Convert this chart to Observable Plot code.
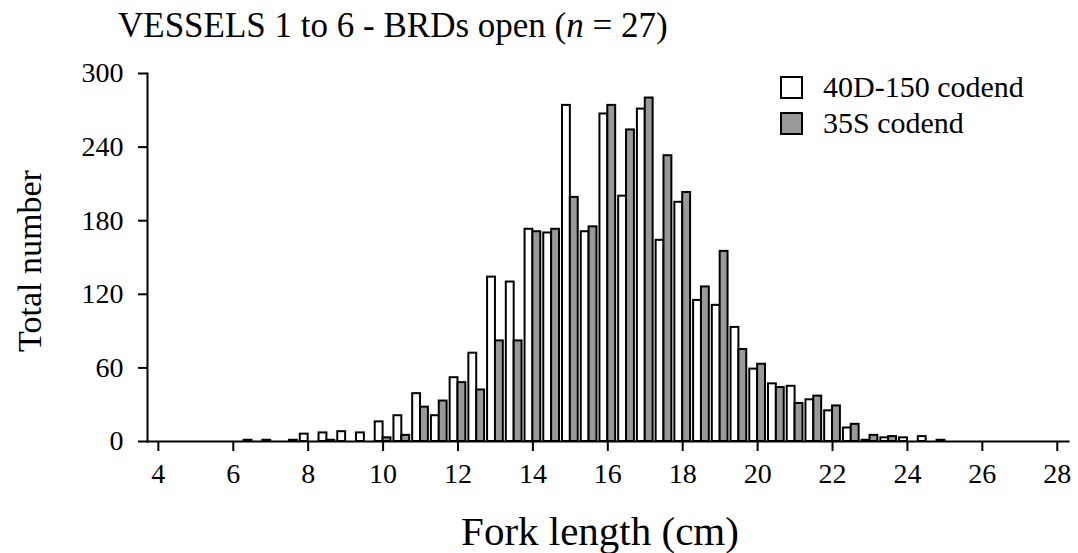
<!DOCTYPE html>
<html><head><meta charset="utf-8">
<script src="https://cdn.jsdelivr.net/npm/d3@7"></script>
<script src="https://cdn.jsdelivr.net/npm/@observablehq/plot@0.6"></script>
<style>
body{margin:0;background:#fff;}
#wrap{position:relative;width:1078px;height:553px;font-family:"Liberation Serif","Times New Roman",serif;color:#000;}
#title{position:absolute;left:118px;top:8px;font-size:35px;white-space:nowrap;line-height:1;}
#xlabel{position:absolute;left:600px;top:511px;font-size:41px;line-height:1;white-space:nowrap;transform:translateX(-50%);}
#ylabel{position:absolute;left:30px;top:261px;font-size:34px;line-height:1;white-space:nowrap;transform:translate(-50%,-50%) rotate(-90deg);}
#legend{position:absolute;left:780px;top:69px;font-size:30px;line-height:1;}
.li{display:flex;align-items:center;height:36px;}
.sw{width:19px;height:19px;border:2px solid #000;box-sizing:content-box;margin-right:20px;}
#chart{position:absolute;left:0;top:0;}
</style></head>
<body><div id="wrap"><div id="chart"></div>
<div id="title">VESSELS 1 to 6 - BRDs open (<i>n</i> = 27)</div>
<div id="xlabel">Fork length (cm)</div>
<div id="ylabel">Total number</div>
<div id="legend"></div></div>
<script>
// Fork length bins (cm)
const lengths   = [6.5, 7, 7.5, 8, 8.5, 9, 9.5, 10, 10.5, 11, 11.5, 12, 12.5, 13, 13.5, 14, 14.5, 15, 15.5, 16, 16.5, 17, 17.5, 18, 18.5, 19, 19.5, 20, 20.5, 21, 21.5, 22, 22.5, 23, 23.5, 24, 24.5, 25];
// 40D-150 codend totals
const codend40D = [1, 1, 0, 6, 7, 8, 7, 16, 21, 39, 21, 52, 72, 134, 130, 173, 170, 274, 171, 267, 200, 271, 164, 195, 115, 111, 93, 59, 47, 45, 34, 25, 11, 1, 3, 3, 4, 1];
// 35S codend totals
const codend35S = [0, 0, 1, 0, 1, 0, 0, 3, 5, 28, 33, 48, 42, 82, 82, 171, 173, 199, 175, 274, 254, 280, 233, 203, 126, 155, 75, 63, 44, 31, 37, 29, 14, 5, 4, 0, 0, 0];
const seriesNames = ["40D-150 codend", "35S codend"];
const seriesFills = ["#ffffff", "#999999"];
const xTicks = [4, 6, 8, 10, 12, 14, 16, 18, 20, 22, 24, 26, 28];
const yTicks = [0, 60, 120, 180, 240, 300];

const rows = lengths.flatMap((L, i) => [
  {L, v: codend40D[i], s: seriesNames[0], k: 0},
  {L, v: codend35S[i], s: seriesNames[1], k: 1}
]).filter(d => d.v > 0);

const serif = "Liberation Serif";
const half = 0.21;
const chart = Plot.plot({
  width: 1078, height: 553,
  marginLeft: 147, marginRight: 10, marginTop: 73, marginBottom: 112,
  style: {background: "#fff", color: "#000"},
  x: {domain: [3.71, 28.3]},
  y: {domain: [0, 300]},
  color: {domain: seriesNames, range: seriesFills},
  marks: [
    Plot.rectY(rows, {
      x1: d => d.k === 0 ? d.L - half : d.L,
      x2: d => d.k === 0 ? d.L : d.L + half,
      y1: 0, y2: "v", fill: "s", stroke: "#000", strokeWidth: 2
    }),
    Plot.frame({anchor: "left", stroke: "#000", strokeWidth: 2}),
    Plot.frame({anchor: "bottom", stroke: "#000", strokeWidth: 2}),
    Plot.axisX({ticks: xTicks, tickSize: 10, strokeWidth: 2, label: null, tickFormat: () => ""}),
    Plot.axisY({ticks: yTicks, tickSize: 9, strokeWidth: 2, label: null, tickFormat: () => ""}),
    Plot.text(xTicks, {x: d => d, text: d => String(d), frameAnchor: "bottom", lineAnchor: "top", dy: 22,
      fontSize: 28, fontFamily: serif, fill: "#000"}),
    Plot.text(yTicks, {y: d => d, text: d => String(d), frameAnchor: "left", textAnchor: "end", dx: -24,
      fontSize: 28, fontFamily: serif, fill: "#000"})
  ]
});
document.getElementById("chart").appendChild(chart);

const legend = document.getElementById("legend");
seriesNames.forEach((name, i) => {
  const row = document.createElement("div");
  row.className = "li";
  const sw = document.createElement("div");
  sw.className = "sw";
  sw.style.background = seriesFills[i];
  const t = document.createElement("span");
  t.textContent = name;
  row.appendChild(sw); row.appendChild(t);
  legend.appendChild(row);
});
</script>
</body></html>
